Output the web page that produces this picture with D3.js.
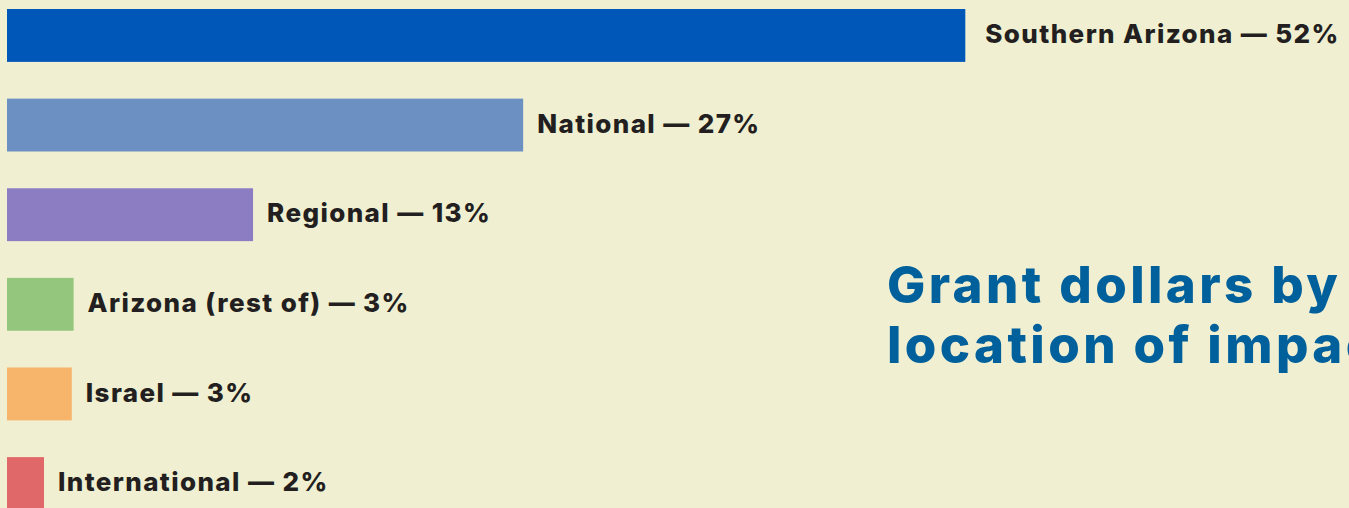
<!DOCTYPE html>
<html>
<head>
<meta charset="utf-8">
<script src="https://cdn.jsdelivr.net/npm/d3@7"></script>
<style>
  html, body { margin: 0; padding: 0; background: #f0efd1; overflow: hidden; }
  svg { display: block; }
</style>
</head>
<body>
<div id="chart"></div>
<script>
// categories, values (bar length in %), label text
var categories = ['Southern Arizona', 'National', 'Regional', 'Arizona (rest of)', 'Israel', 'International'];
var values = [51.8, 27.9, 13.3, 3.6, 3.5, 2.0];
var labels = ['52%', '27%', '13%', '3%', '3%', '2%'];
var colors = ['#0057b8', '#6c90c1', '#8c7dc3', '#94c67d', '#f7b46b', '#e16868'];
var titleLines = ['Grant dollars by', 'location of impact'];

var width = 1349;
var height = 508;

var svg = d3.select('#chart')
  .append('svg')
  .attr('width', width)
  .attr('height', height);

svg.append('rect')
  .attr('width', width)
  .attr('height', height)
  .attr('fill', '#f0efd1');

// scales
var x = d3.scaleLinear()
  .domain([0, 100])
  .range([7, 7 + 1850]);

var y = d3.scaleBand()
  .domain(categories)
  .range([9, 510])
  .paddingInner(0.41)
  .paddingOuter(0);

var rows = categories.map(function (c, i) {
  return { name: c, value: values[i], label: labels[i], color: colors[i] };
});

// bars
svg.selectAll('rect.bar')
  .data(rows)
  .enter()
  .append('rect')
  .attr('class', 'bar')
  .attr('x', x(0))
  .attr('y', function (d) { return y(d.name); })
  .attr('width', function (d) { return x(d.value) - x(0); })
  .attr('height', y.bandwidth())
  .attr('fill', function (d) { return d.color; });

// labels next to the bars
svg.selectAll('text.lbl')
  .data(rows)
  .enter()
  .append('text')
  .attr('class', 'lbl')
  .attr('x', function (d, i) { return x(d.value) + (i == 0 ? 20 : 14); })
  .attr('y', function (d) { return y(d.name) + y.bandwidth() / 2; })
  .attr('dy', '0.3em')
  .attr('font-family', 'Inter, sans-serif')
  .attr('font-weight', 800)
  .attr('font-size', 26)
  .attr('letter-spacing', 1.4)
  .attr('fill', '#231f20')
  .text(function (d) { return d.name + ' \u2014 ' + d.label; });

// title (runs off the right edge)
svg.selectAll('text.title')
  .data(titleLines)
  .enter()
  .append('text')
  .attr('class', 'title')
  .attr('x', 887)
  .attr('y', function (d, i) { return 303 + i * 60; })
  .attr('font-family', 'Inter, sans-serif')
  .attr('font-weight', 800)
  .attr('font-size', 51)
  .attr('letter-spacing', 3.4)
  .attr('fill', '#00609c')
  .text(function (d) { return d; });
</script>
</body>
</html>
